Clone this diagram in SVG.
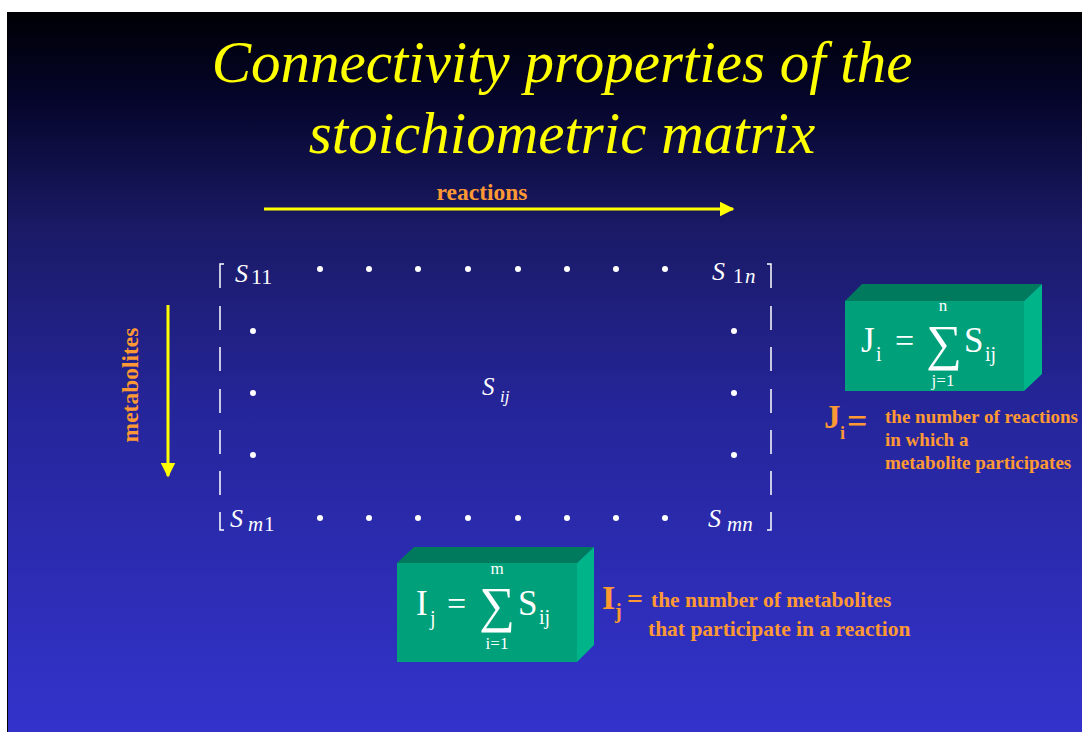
<svg xmlns="http://www.w3.org/2000/svg" width="1082" height="732" viewBox="0 0 1082 732">
<defs>
<linearGradient id="bg" x1="0" y1="0" x2="0" y2="1">
<stop offset="0" stop-color="#000005"/>
<stop offset="0.12" stop-color="#05052a"/>
<stop offset="0.3" stop-color="#1a1a66"/>
<stop offset="0.55" stop-color="#25259a"/>
<stop offset="1" stop-color="#3333cc"/>
</linearGradient>
<marker id="ah" viewBox="0 0 10 10" refX="9" refY="5" markerWidth="5" markerHeight="5" orient="auto" markerUnits="strokeWidth">
<path d="M0,0 L10,5 L0,10 z" fill="#ffff00"/>
</marker>
<style>
text{font-family:'Liberation Serif','Times New Roman','DejaVu Serif',serif}
.title{font-style:italic;font-size:59px;fill:#ffff00;text-anchor:middle}
.lbl{font-weight:bold;fill:#ff9933}
.m{fill:#ffffff}
.it{font-style:italic}
.dot{fill:#ffffff}
.br{stroke:#ffffff;stroke-width:1.5;fill:none}
.front{fill:#00a07a}
.top{fill:#007a5c}
.side{fill:#00b48a}
</style>
</defs>
<rect x="0" y="0" width="1082" height="732" fill="#ffffff"/>
<rect x="7" y="12" width="1075" height="720" fill="url(#bg)"/>
<line x1="7.5" y1="12" x2="7.5" y2="732" stroke="#000000" stroke-width="1"/>

<text class="title" x="562" y="82">Connectivity properties of the</text>
<text class="title" x="562" y="153">stoichiometric matrix</text>

<g id="connectors">
<line x1="264" y1="209" x2="733" y2="209" stroke="#ffff00" stroke-width="3" marker-end="url(#ah)"/>
<line x1="168" y1="305" x2="168" y2="476" stroke="#ffff00" stroke-width="3" marker-end="url(#ah)"/>
</g>

<g id="axis-labels">
<text class="lbl" x="482" y="200" font-size="23.5" text-anchor="middle">reactions</text>
<text class="lbl" x="0" y="0" font-size="23.5" text-anchor="middle" transform="translate(138,385) rotate(-90)">metabolites</text>
</g>

<g id="matrix">
<path class="br" d="M224,264 H220 V288 M220,306 V330 M220,347 V371 M220,389 V413 M220,430 V454 M220,471 V495 M220,512 V530 H224"/>
<path class="br" d="M767,264 H771 V288 M771,306 V330 M771,347 V371 M771,389 V413 M771,430 V454 M771,471 V495 M771,512 V530 H767"/>
<text class="m" font-size="26" y="282"><tspan x="235" class="it">S</tspan><tspan x="251" font-size="22" dy="2">11</tspan></text>
<text class="m" font-size="26" y="280"><tspan x="712" class="it">S</tspan><tspan x="733" font-size="21" dy="3">1</tspan><tspan x="745" font-size="21" class="it">n</tspan></text>
<text class="m" font-size="26" y="527"><tspan x="230" class="it">S</tspan><tspan x="248" font-size="21" dy="4" class="it">m</tspan><tspan x="264" font-size="21">1</tspan></text>
<text class="m" font-size="26" y="527"><tspan x="708" class="it">S</tspan><tspan x="727" font-size="21" dy="4" class="it">mn</tspan></text>
<text class="m" font-size="25" y="395"><tspan x="482" class="it">S</tspan><tspan x="500" font-size="17" dy="7" class="it">ij</tspan></text>
<g class="dots">
<circle class="dot" cx="320" cy="269" r="3"/><circle class="dot" cx="369" cy="269" r="3"/><circle class="dot" cx="418" cy="269" r="3"/><circle class="dot" cx="468" cy="269" r="3"/><circle class="dot" cx="518" cy="269" r="3"/><circle class="dot" cx="567" cy="269" r="3"/><circle class="dot" cx="616" cy="269" r="3"/><circle class="dot" cx="665" cy="269" r="3"/>
<circle class="dot" cx="320" cy="518" r="3"/><circle class="dot" cx="369" cy="518" r="3"/><circle class="dot" cx="418" cy="518" r="3"/><circle class="dot" cx="468" cy="518" r="3"/><circle class="dot" cx="518" cy="518" r="3"/><circle class="dot" cx="567" cy="518" r="3"/><circle class="dot" cx="616" cy="518" r="3"/><circle class="dot" cx="665" cy="518" r="3"/>
<circle class="dot" cx="253" cy="331" r="3"/><circle class="dot" cx="253" cy="393" r="3"/><circle class="dot" cx="253" cy="455" r="3"/>
<circle class="dot" cx="734" cy="331" r="3"/><circle class="dot" cx="734" cy="393" r="3"/><circle class="dot" cx="734" cy="455" r="3"/>
</g>
</g>

<g id="box-J">
<polygon class="top" points="845,301 862,284 1042,284 1024,301"/>
<polygon class="side" points="1024,301 1042,284 1042,374 1024,391"/>
<rect class="front" x="845" y="301" width="179" height="90"/>
<text class="m" font-size="35" x="861" y="352">J</text>
<text class="m" font-size="20" x="876" y="361">i</text>
<text class="m" font-size="34" x="895" y="352">=</text>
<text class="m" font-size="50" x="944" y="360" text-anchor="middle">∑</text>
<text class="m" font-size="17" x="943" y="311" text-anchor="middle">n</text>
<text class="m" font-size="17" x="943" y="386" text-anchor="middle">j=1</text>
<text class="m" font-size="35" x="964" y="352">S</text>
<text class="m" font-size="20" x="985" y="361">ij</text>
</g>

<g id="label-J">
<text class="lbl" font-size="33" font-weight="normal" x="824" y="428">J</text>
<text class="lbl" font-size="18" font-weight="normal" x="840" y="439">i</text>
<text class="lbl" font-size="36" font-weight="normal" x="847" y="433">=</text>
<text class="lbl" font-size="19" x="885" y="423">the number of reactions</text>
<text class="lbl" font-size="19" x="885" y="446">in which a</text>
<text class="lbl" font-size="19" x="885" y="469">metabolite participates</text>
</g>

<g id="box-I">
<polygon class="top" points="397,563 414,547 594,547 577,563"/>
<polygon class="side" points="577,563 594,547 594,645 577,662"/>
<rect class="front" x="397" y="563" width="180" height="99"/>
<text class="m" font-size="35" x="416" y="615">I</text>
<text class="m" font-size="20" x="430" y="625">j</text>
<text class="m" font-size="34" x="447" y="615">=</text>
<text class="m" font-size="50" x="497" y="622" text-anchor="middle">∑</text>
<text class="m" font-size="17" x="497" y="574" text-anchor="middle">m</text>
<text class="m" font-size="17" x="497" y="649" text-anchor="middle">i=1</text>
<text class="m" font-size="35" x="518" y="615">S</text>
<text class="m" font-size="20" x="539" y="624">ij</text>
</g>

<g id="label-I">
<text class="lbl" font-size="34" x="602" y="609">I</text>
<text class="lbl" font-size="20" x="615" y="618">j</text>
<text class="lbl" font-size="28" x="627" y="608">=</text>
<text class="lbl" font-size="21.5" x="651" y="607">the number of metabolites</text>
<text class="lbl" font-size="21.5" x="648" y="636">that participate in a reaction</text>
</g>
</svg>
